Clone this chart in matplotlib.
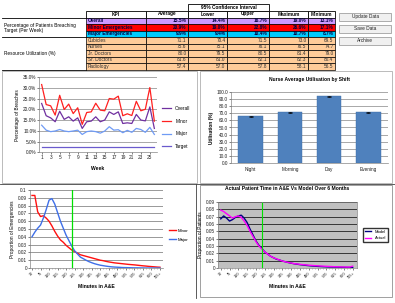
import matplotlib.pyplot as plt
from matplotlib.patches import Rectangle
import numpy as np

plt.rcParams['font.family'] = ['Liberation Sans', 'DejaVu Sans']

W, H = 395, 303

# ---- table data ----
col_headers = ["KPI", "Average", "Lower", "Upper", "Maximum", "Minimum"]
kpi_names = ["Overall", "Minor Emergencies", "Major Emergencies", "Cubicles",
             "Nurses", "Jr. Doctors", "Sr. Doctors", "Radiology"]
kpi_avg = [15.5, 20.9, 9.9, 71.1, 75.6, 80.0, 81.6, 57.4]
kpi_lower = [14.4, 19.0, 9.4, 70.4, 75.1, 79.5, 81.0, 57.0]
kpi_upper = [16.7, 22.8, 10.4, 71.5, 76.1, 80.5, 82.1, 57.8]
kpi_max = [19.0, 26.6, 10.7, 73.0, 76.5, 81.4, 82.3, 58.1]
kpi_min = [13.1, 17.1, 8.7, 69.5, 74.7, 79.0, 80.4, 56.5]
kpi_is_pct = [True, True, True, False, False, False, False, False]
buttons = ["Update Data", "Save Data", "Archive"]

# ---- weekly breaches ----
weeks = list(range(1, 27))
overall = [22.7, 17.0, 16.0, 14.2, 19.1, 15.3, 16.5, 14.5, 16.0, 11.1, 14.2, 14.5, 16.5,
           14.2, 15.0, 18.8, 17.6, 18.8, 13.4, 13.7, 13.4, 17.6, 15.0, 14.6, 21.1, 11.1]
minor = [31.5, 22.2, 21.6, 17.3, 26.5, 19.9, 22.4, 18.0, 20.7, 13.0, 18.5, 18.8, 22.8,
         19.6, 19.3, 25.0, 24.7, 26.1, 17.0, 17.9, 17.1, 23.7, 19.3, 20.0, 30.1, 14.5]
major = [12.6, 10.3, 9.6, 9.9, 10.6, 9.9, 9.6, 9.9, 10.3, 8.3, 9.6, 9.9, 9.6,
         8.9, 9.9, 11.9, 10.3, 10.5, 9.1, 10.2, 9.3, 11.1, 10.6, 9.3, 11.6, 8.3]
target = [2.5] * 26

# ---- nurse utilisation ----
shifts = ["Night", "Morning", "Day", "Evening"]
nurse_util = [65.5, 71.5, 94.0, 71.5]
nurse_err = [0.8, 0.8, 0.8, 0.8]

# ---- time in A&E distributions ----
minutes = list(range(30, 706, 15))
minor_dist = [0.093, 0.093, 0.072, 0.066, 0.067, 0.064, 0.060, 0.054, 0.047, 0.041,
              0.036, 0.033, 0.029, 0.026, 0.023, 0.021, 0.019, 0.017, 0.016, 0.015,
              0.014, 0.013, 0.012, 0.011, 0.010, 0.0094, 0.0085, 0.0078, 0.0072, 0.0066,
              0.0062, 0.0058, 0.0054, 0.0050, 0.0046, 0.0043, 0.0040, 0.0036, 0.0032, 0.0028,
              0.0025, 0.0021, 0.0018, 0.0015, 0.0012, 0.0010]
major_dist = [0.040, 0.046, 0.051, 0.055, 0.064, 0.075, 0.087, 0.089, 0.082, 0.071,
              0.060, 0.051, 0.042, 0.035, 0.028, 0.022, 0.018, 0.014, 0.012, 0.010,
              0.0082, 0.0068, 0.0055, 0.0045, 0.0036, 0.0030, 0.0024, 0.0019, 0.0015, 0.0012,
              0.0010, 0.0008, 0.0006, 0.0005, 0.0004, 0.0003, 0.0002, 0.0002, 0.0001, 0.0001,
              0.0, 0.0, 0.0, 0.0, 0.0, 0.0]
actual_dist = [0.079, 0.077, 0.074, 0.071, 0.068, 0.070, 0.071, 0.069, 0.064, 0.058,
               0.050, 0.043, 0.036, 0.030, 0.026, 0.022, 0.019, 0.016, 0.014, 0.0125,
               0.011, 0.0095, 0.0085, 0.0076, 0.0068, 0.0060, 0.0055, 0.0050, 0.0046, 0.0042,
               0.0038, 0.0035, 0.0032, 0.0030, 0.0027, 0.0025, 0.0023, 0.0021, 0.0019, 0.0017,
               0.0016, 0.0015, 0.0014, 0.0013, 0.0013, 0.0025]
model_dist = [0.067, 0.071, 0.068, 0.064, 0.066, 0.069, 0.071, 0.072, 0.068, 0.062,
              0.053, 0.045, 0.037, 0.031, 0.027, 0.022, 0.019, 0.016, 0.014, 0.012,
              0.011, 0.0095, 0.0085, 0.0075, 0.0066, 0.0058, 0.0052, 0.0046, 0.0041, 0.0036,
              0.0032, 0.0028, 0.0025, 0.0022, 0.0020, 0.0018, 0.0016, 0.0014, 0.0013, 0.0012,
              0.0011, 0.0010, 0.0009, 0.0008, 0.0007, 0.0006]
minute_labels = [str(m) for m in minutes[::3]]
minute_labels[-1] = minute_labels[-1] + "+"
target_minutes = 240

fig = plt.figure(figsize=(W / 100, H / 100), dpi=100)


def px_axes(x0, y0, x1, y1):
    return fig.add_axes([x0 / W, 1 - y1 / H, (x1 - x0) / W, (y1 - y0) / H])


# overlay for table, buttons and panel frames
ov = fig.add_axes([0, 0, 1, 1])
ov.set_xlim(0, W)
ov.set_ylim(H, 0)
ov.axis('off')

FS = 3.4
col_edges = [86, 146, 188, 227, 269, 308, 335]
row_colors = ['#CC99FF', '#FF0000', '#00CCFF'] + ['#FFCC99'] * 5
hdr_top, hdr_bot, row_h = 10.5, 17.5, 6.5

ov.add_patch(Rectangle((col_edges[2], 4), col_edges[4] - col_edges[2], hdr_top - 4,
                       fc='white', ec='black', lw=0.6))
ov.text((col_edges[2] + col_edges[4]) / 2, 7.3, "95% Confidence Interval", fontsize=FS,
        fontweight='bold', ha='center', va='center')
for j, name in enumerate(col_headers):
    ov.add_patch(Rectangle((col_edges[j], hdr_top), col_edges[j + 1] - col_edges[j],
                           hdr_bot - hdr_top, fc='white', ec='black', lw=0.6))
    ov.text((col_edges[j] + col_edges[j + 1]) / 2, (hdr_top + hdr_bot) / 2, name,
            fontsize=FS, fontweight='bold', ha='center', va='center')

for i, name in enumerate(kpi_names):
    y0 = hdr_bot + i * row_h
    vals = [kpi_avg[i], kpi_lower[i], kpi_upper[i], kpi_max[i], kpi_min[i]]
    bold = i < 3
    tcol = '#000040' if bold else '#303030'
    for j in range(6):
        ov.add_patch(Rectangle((col_edges[j], y0), col_edges[j + 1] - col_edges[j], row_h,
                               fc=row_colors[i], ec='black', lw=0.5))
    ov.text(col_edges[0] + 1.5, y0 + row_h / 2, name, fontsize=FS, ha='left', va='center',
            fontweight='bold' if bold else 'normal', color=tcol)
    for j, v in enumerate(vals):
        s = f"{v:.1f}%" if kpi_is_pct[i] else f"{v:.1f}"
        ov.text(col_edges[j + 2] - 1.5, y0 + row_h / 2, s, fontsize=FS, ha='right',
                va='center', fontweight='bold' if bold else 'normal', color=tcol)

tbl_bot = hdr_bot + len(kpi_names) * row_h
ov.plot([2, 86], [hdr_bot, hdr_bot], color='black', lw=0.6)
ov.plot([2, 86], [hdr_bot + 3 * row_h, hdr_bot + 3 * row_h], color='black', lw=0.6)
ov.plot([2, 86], [tbl_bot, tbl_bot], color='black', lw=0.6)
ov.text(4, 28, "Percentage of Patients Breaching\nTarget (Per Week)", fontsize=FS,
        ha='left', va='center', linespacing=1.2)
ov.text(4, 54, "Resource Utilization (%)", fontsize=FS, ha='left', va='center')

for k, b in enumerate(buttons):
    y0 = 13 + k * 12
    ov.add_patch(Rectangle((339, y0), 52, 7.5, fc='#F0F0F0', ec='#A0A0A0', lw=0.6))
    ov.text(365, y0 + 3.9, b, fontsize=FS, ha='center', va='center', color='#202020')

# panel frames
ov.add_patch(Rectangle((2, 71), 195, 112, fc='none', ec='#B0B0B0', lw=0.6))
ov.add_patch(Rectangle((200, 71), 192, 112, fc='none', ec='#B0B0B0', lw=0.6))
ov.plot([0, 395], [184, 184], color='#404040', lw=0.6)
ov.plot([196, 196], [184, 298], color='#404040', lw=0.6)
ov.add_patch(Rectangle((200, 185), 192, 112, fc='none', ec='#909090', lw=0.6))


def excel_style(ax, grid_color='#868686'):
    for s in ['top', 'right']:
        ax.spines[s].set_visible(False)
    for s in ['left', 'bottom']:
        ax.spines[s].set_color('#868686')
        ax.spines[s].set_linewidth(0.5)
    ax.yaxis.grid(True, color=grid_color, lw=0.5)
    ax.set_axisbelow(True)
    ax.tick_params(labelsize=3.4, length=1.2, width=0.4, pad=1, colors='#202020')


# ---- weekly line chart ----
ax1 = px_axes(39.4, 77, 156.6, 152.3)
ax1.plot(weeks, overall, color='#7030A0', lw=0.9, label='Overall')
ax1.plot(weeks, minor, color='#FF2020', lw=0.9, label='Minor')
ax1.plot(weeks, major, color='#6F9BF5', lw=0.9, label='Major')
ax1.plot(weeks, target, color='#6A5ACD', lw=0.9, label='Target')
ax1.set_xlim(0.5, 26.5)
ax1.set_ylim(0, 35)
ax1.set_yticks(np.arange(0, 36, 5))
ax1.set_yticklabels([f"{v:.1f}%" for v in np.arange(0, 36, 5)])
ax1.set_xticks(weeks[::2])
excel_style(ax1)
ax1.set_xlabel("Week", fontsize=3.6, fontweight='bold', labelpad=4)
ax1.set_ylabel("Percentage of Breaches", fontsize=3.4, labelpad=2)
ax1.legend(loc='center left', bbox_to_anchor=(1.03, 0.33), frameon=False, fontsize=3.4,
           handlelength=2.0, labelspacing=1.6, borderaxespad=0)

# ---- nurse utilisation bar chart ----
ax2 = px_axes(231, 92, 388, 163)
ax2.bar(range(len(shifts)), nurse_util, width=0.63, color='#4F81BD', edgecolor='#3A6AA5',
        lw=0.3, yerr=nurse_err, error_kw=dict(ecolor='black', lw=0.5, capsize=1.2, capthick=0.5))
ax2.set_xlim(-0.5, 3.5)
ax2.set_ylim(0, 100)
ax2.set_yticks(np.arange(0, 101, 10))
ax2.set_yticklabels([f"{v:.1f}" for v in np.arange(0, 101, 10)])
ax2.set_xticks(range(len(shifts)))
ax2.set_xticklabels(shifts)
excel_style(ax2)
ax2.tick_params(axis='x', length=0, pad=3)
ax2.set_ylabel("Utilisation (%)", fontsize=3.4, fontweight='bold', labelpad=2)
ax2.set_title("Nurse Average Utilisation by Shift", fontsize=3.6, fontweight='bold', pad=8)

# ---- minor / major time distribution ----
ax3 = px_axes(30, 190, 163, 268)
ax3.plot(minutes, minor_dist, color='#FF1010', lw=1.0, label='Minor')
ax3.plot(minutes, major_dist, color='#3F6FE8', lw=1.0, label='Major')
ax3.axvline(target_minutes, color='#00E000', lw=0.9)
ax3.set_xlim(19.5, 721)
ax3.set_ylim(0, 0.1)
ax3.set_yticks(np.arange(0, 0.101, 0.01))
ax3.set_yticklabels(["0"] + [f"{v:g}" for v in np.round(np.arange(0.01, 0.101, 0.01), 2)])
ax3.set_xticks(minutes[::3])
ax3.set_xticklabels(minute_labels, rotation=45, ha='right', rotation_mode='anchor')
ax3.set_xticks(minutes, minor=True)
excel_style(ax3, grid_color='#707070')
ax3.tick_params(axis='x', labelsize=2.8)
ax3.tick_params(which='minor', length=1.0, width=0.4, colors='#868686')
ax3.set_xlabel("Minutes in A&E", fontsize=3.6, fontweight='bold', labelpad=3)
ax3.set_ylabel("Proportion of Emergencies", fontsize=3.4, labelpad=2)
ax3.legend(loc='center left', bbox_to_anchor=(1.03, 0.42), frameon=False, fontsize=3.2,
           handlelength=1.6, handletextpad=0.4, labelspacing=1.2, borderaxespad=0)

# ---- model vs actual ----
ax4 = px_axes(218, 202, 357, 268)
ax4.set_facecolor('#C0C0C0')
ax4.plot(minutes, model_dist, color='#000080', lw=1.0, label='Model')
ax4.plot(minutes, actual_dist, color='#FF00FF', lw=1.0, label='Actual')
ax4.axvline(target_minutes, color='#00E000', lw=0.8)
ax4.set_xlim(16, 727)
ax4.set_ylim(0, 0.09)
ax4.set_yticks(np.arange(0, 0.091, 0.01))
ax4.set_yticklabels(["0"] + [f"{v:g}" for v in np.round(np.arange(0.01, 0.091, 0.01), 2)])
ax4.set_xticks(minutes[::3])
ax4.set_xticklabels(minute_labels, rotation=45, ha='right', rotation_mode='anchor')
ax4.set_xticks(minutes, minor=True)
excel_style(ax4, grid_color='black')
for s in ['top', 'right']:
    ax4.spines[s].set_visible(True)
    ax4.spines[s].set_color('#808080')
    ax4.spines[s].set_linewidth(0.5)
ax4.tick_params(axis='x', labelsize=2.8)
ax4.tick_params(which='minor', length=1.0, width=0.4, colors='#868686')
ax4.set_xlabel("Minutes in A&E", fontsize=3.6, fontweight='bold', labelpad=3)
ax4.set_ylabel("Proportion of Patients", fontsize=3.4, labelpad=2)
ax4.set_title("Actual Patient Time in A&E Vs Model Over 6 Months", fontsize=3.6,
              fontweight='bold', pad=9)
ax4.legend(loc='center left', bbox_to_anchor=(1.04, 0.5), frameon=True, fontsize=3.0,
           handlelength=1.6, labelspacing=0.6, borderaxespad=0, fancybox=False,
           edgecolor='black', borderpad=0.5)

fig.savefig("out.png", dpi=100)
